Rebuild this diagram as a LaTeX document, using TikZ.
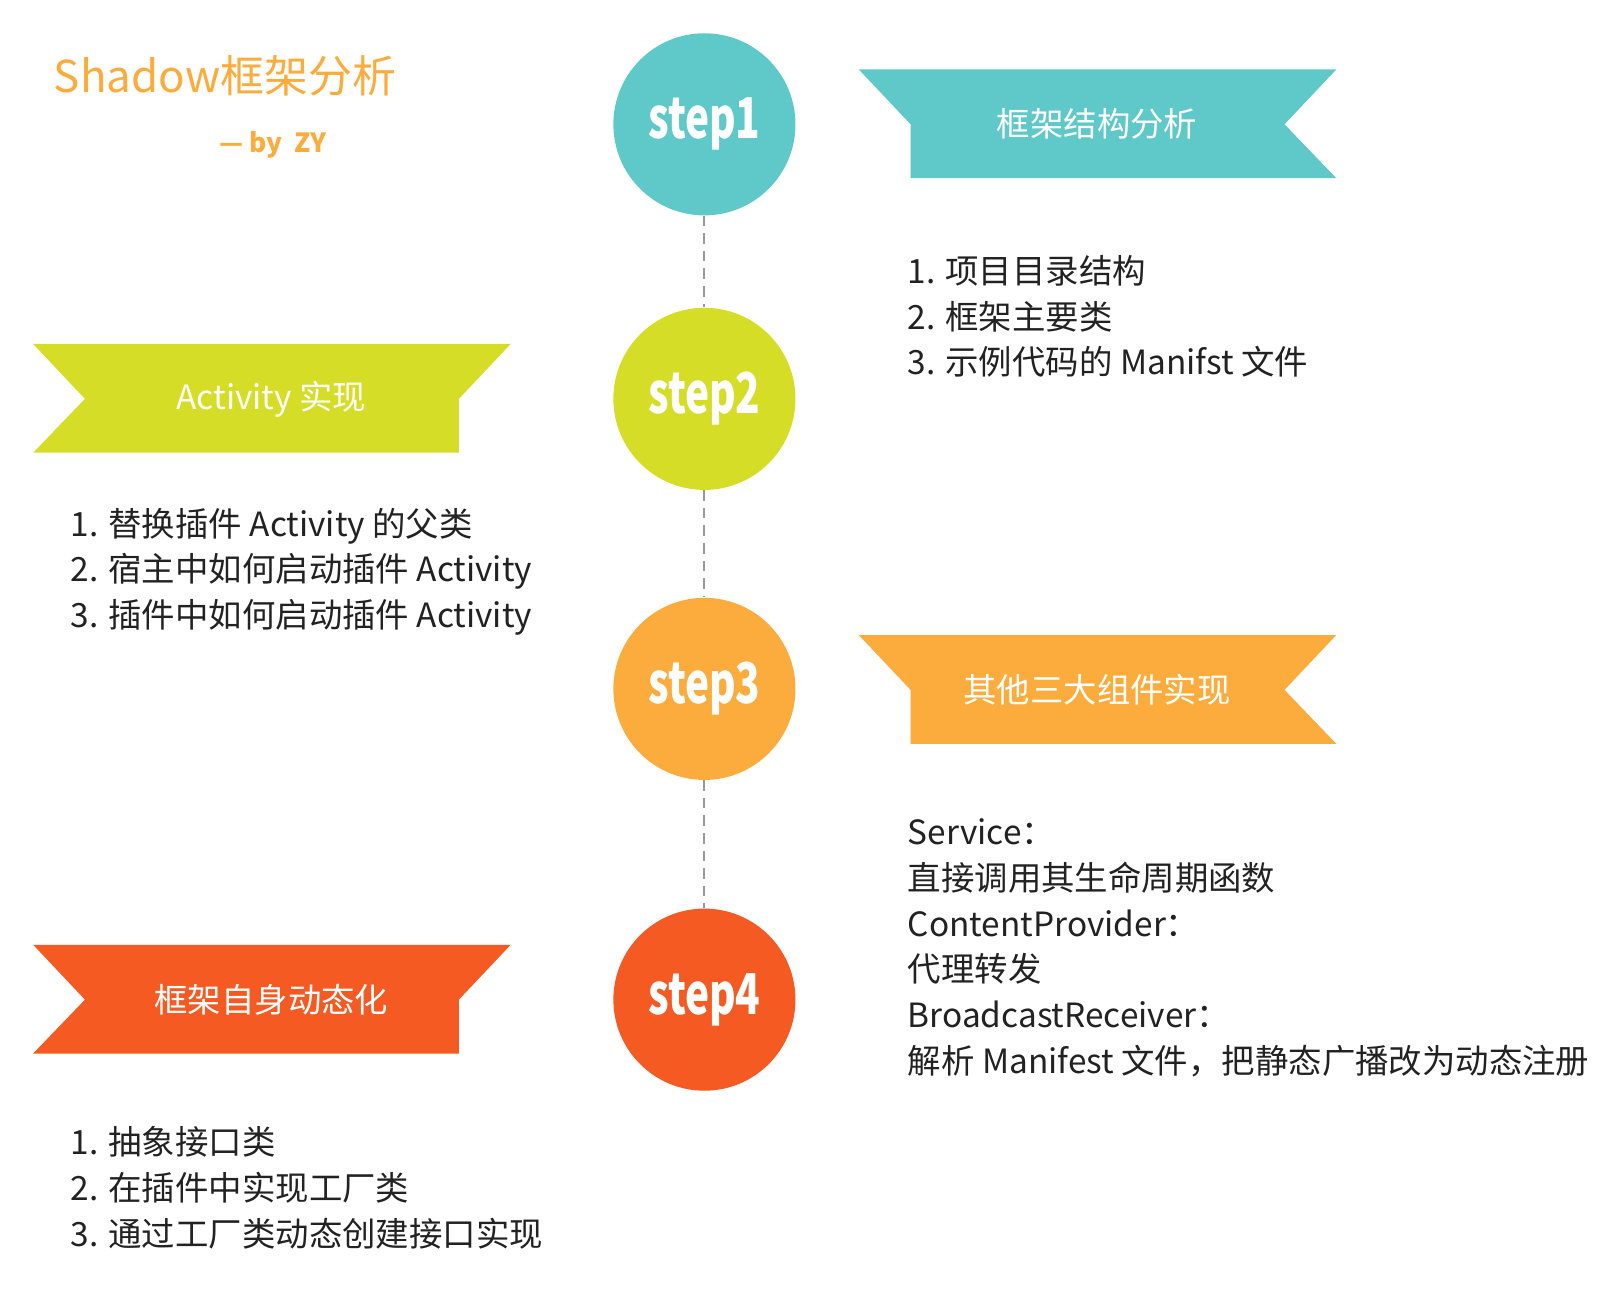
\documentclass[tikz,border=0pt]{standalone}
\usepackage{fontspec}
\setmainfont{Noto Sans CJK SC}
\newfontfamily\stepfont{Noto Sans CJK SC Black}
\usetikzlibrary{positioning}
\definecolor{tealc}{HTML}{5FC9C9}
\definecolor{limec}{HTML}{D6DD26}
\definecolor{orangec}{HTML}{FCAC3C}
\definecolor{redc}{HTML}{F55A22}
\definecolor{textc}{HTML}{222222}
\tikzset{
  stepnode/.style={circle, minimum size=3.64cm, inner sep=0pt, text=white,
    font=\stepfont\fontsize{32}{34}\selectfont},
  bannertext/.style={text=white, font=\fontsize{19}{22}\selectfont},
  itemtext/.style={text=textc, align=left, anchor=north west,
    font=\fontsize{19}{26}\selectfont, inner sep=0pt},
  link/.style={gray!80, line width=1.2pt, dash pattern=on 6pt off 4pt}
}
\newcommand{\rightbanner}[2]{% colour, top y
  \fill[#1] (829,#2) -- (1290,#2) -- (1240,#2+53) -- (1290,#2+105)
    -- (879,#2+105) -- (879,#2+53) -- cycle;}
\newcommand{\leftbanner}[2]{%
  \fill[#1] (493,#2) -- (32,#2) -- (82,#2+53) -- (32,#2+105)
    -- (443,#2+105) -- (443,#2+53) -- cycle;}
\begin{document}
\begin{tikzpicture}[x=0.0207cm,y=-0.0207cm]
  \useasboundingbox (0,0) rectangle (1560,1250);

  % title
  \node[anchor=west, text=orangec, font=\fontsize{25}{29}\selectfont] (title) at (46,73) {Shadow框架分析};
  \node[anchor=west, text=orangec, font=\bfseries\fontsize{15}{17}\selectfont] (by) at (206,140) {— by\ \ ZY};

  % steps
  \node[stepnode, fill=tealc] (s1) at (680,120) {\scalebox{0.72}[1]{step1}};
  \node[stepnode, fill=limec] (s2) at (680,385) {\scalebox{0.72}[1]{step2}};
  \node[stepnode, fill=orangec] (s3) at (680,665) {\scalebox{0.72}[1]{step3}};
  \node[stepnode, fill=redc] (s4) at (680,965) {\scalebox{0.72}[1]{step4}};
  \draw[link] (s1) -- (s2);
  \draw[link] (s2) -- (s3);
  \draw[link] (s3) -- (s4);

  % banners
  \rightbanner{tealc}{67}
  \node[bannertext] (b1) at (1059,120) {框架结构分析};
  \leftbanner{limec}{332}
  \node[bannertext] (b2) at (262,385) {Activity 实现};
  \rightbanner{orangec}{613}
  \node[bannertext] (b3) at (1059,666) {其他三大组件实现};
  \leftbanner{redc}{912}
  \node[bannertext] (b4) at (262,965) {框架自身动态化};

  % items
  \node[itemtext] (t1) at (876,246) {1. 项目目录结构\\2. 框架主要类\\3. 示例代码的 Manifst 文件};
  \node[itemtext] (t2) at (68,490) {1. 替换插件 Activity 的父类\\2. 宿主中如何启动插件 Activity\\3. 插件中如何启动插件 Activity};
  \node[itemtext] (t3) at (876,790) {Service：\\直接调用其生命周期函数\\ContentProvider：\\代理转发\\BroadcastReceiver：\\解析 Manifest 文件，把静态广播改为动态注册};
  \node[itemtext] (t4) at (68,1087) {1. 抽象接口类\\2. 在插件中实现工厂类\\3. 通过工厂类动态创建接口实现};
\end{tikzpicture}
\end{document}
